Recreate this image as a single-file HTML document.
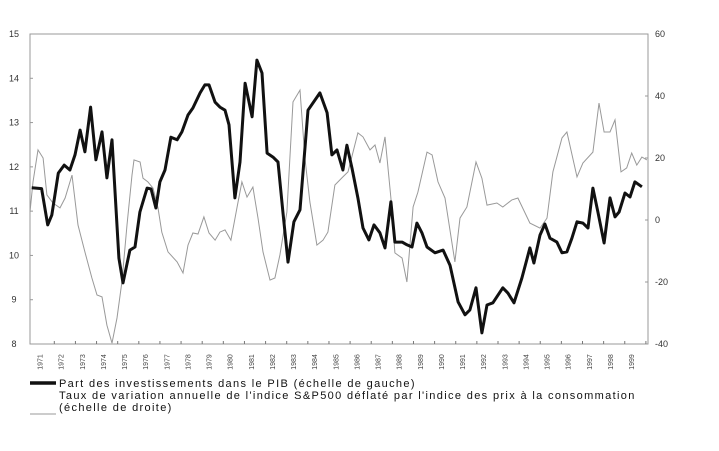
<!DOCTYPE html>
<html><head><meta charset="utf-8"><style>
body{margin:0;background:#fff;}
svg{display:block;font-family:"Liberation Sans",Arial,sans-serif;}
</style></head><body>
<svg id="chart" width="719" height="451" viewBox="0 0 719 451">
<rect x="30" y="34" width="618" height="310" fill="none" stroke="#999" stroke-width="1"/>
<g id="axes"></g>
<g id="series"></g>
<g letter-spacing="1.35">
<line x1="30" y1="383" x2="56" y2="383" stroke="#111" stroke-width="3.5"/>
<text x="59" y="387" font-size="11" fill="#111">Part des investissements dans le PIB  (échelle de gauche)</text>
<line x1="30" y1="414" x2="56" y2="414" stroke="#999" stroke-width="1"/>
<text x="59" y="399" font-size="11" fill="#111">Taux de variation annuelle de l'indice S&amp;P500 déflaté par l'indice des prix à la consommation</text>
<text x="59" y="411" font-size="11" fill="#111">(échelle de droite)</text>
</g>
</svg>
<script>
const leftTicks=[15,14,13,12,11,10,9,8];
const rightTicks=[60,40,20,0,-20,-40];
const yearLabels=[1971,1972,1973,1974,1975,1976,1977,1978,1979,1980,1981,1982,1983,1984,1985,1986,1987,1988,1989,1990,1991,1992,1993,1994,1995,1996,1997,1998,1999];
const invYears=[1970.83,1971.3,1971.59,1971.78,1972.09,1972.37,1972.64,1972.88,1973.12,1973.35,1973.62,1973.87,1974.16,1974.39,1974.63,1974.96,1975.15,1975.48,1975.72,1975.95,1976.29,1976.48,1976.71,1976.9,1977.14,1977.42,1977.71,1977.94,1978.23,1978.46,1978.8,1979.03,1979.22,1979.51,1979.74,1979.98,1980.17,1980.45,1980.69,1980.93,1981.26,1981.49,1981.73,1981.97,1982.25,1982.49,1982.72,1982.96,1983.24,1983.53,1983.91,1984.47,1984.81,1985.04,1985.28,1985.56,1985.75,1985.99,1986.27,1986.51,1986.79,1987.03,1987.31,1987.55,1987.83,1988.02,1988.36,1988.59,1988.83,1989.06,1989.3,1989.54,1989.92,1990.3,1990.63,1991.01,1991.34,1991.57,1991.86,1992.14,1992.38,1992.66,1993.13,1993.37,1993.66,1994.03,1994.22,1994.41,1994.6,1994.89,1995.12,1995.36,1995.69,1995.93,1996.16,1996.4,1996.64,1996.92,1997.16,1997.39,1997.63,1997.92,1998.2,1998.44,1998.63,1998.91,1999.15,1999.38,1999.71];
const invValues=[11.53,11.51,10.69,10.91,11.86,12.04,11.93,12.27,12.83,12.34,13.35,12.16,12.79,11.75,12.61,9.94,9.38,10.12,10.19,10.98,11.52,11.5,11.07,11.66,11.93,12.67,12.61,12.79,13.17,13.33,13.67,13.85,13.85,13.46,13.35,13.28,12.95,11.3,12.11,13.89,13.13,14.41,14.12,12.31,12.22,12.11,10.98,9.85,10.76,11.03,13.28,13.67,13.22,12.27,12.38,11.93,12.49,11.97,11.3,10.62,10.35,10.69,10.51,10.17,11.21,10.3,10.3,10.24,10.19,10.73,10.51,10.19,10.06,10.12,9.78,8.95,8.66,8.77,9.27,8.25,8.88,8.93,9.27,9.15,8.93,9.49,9.83,10.17,9.83,10.46,10.71,10.39,10.3,10.06,10.08,10.39,10.76,10.73,10.62,11.52,10.98,10.28,11.3,10.87,10.98,11.41,11.32,11.66,11.55];
const spYears=[1970.75,1970.89,1971.13,1971.37,1971.55,1971.84,1972.17,1972.41,1972.74,1973.02,1973.35,1973.68,1973.92,1974.16,1974.39,1974.63,1974.87,1975.1,1975.34,1975.58,1975.67,1975.96,1976.1,1976.33,1976.57,1976.81,1976.99,1977.28,1977.71,1977.99,1978.23,1978.46,1978.7,1978.98,1979.22,1979.51,1979.74,1979.98,1980.26,1980.55,1980.78,1981.02,1981.3,1981.54,1981.78,1982.11,1982.34,1982.58,1982.91,1983.2,1983.53,1983.76,1984.0,1984.33,1984.62,1984.85,1985.18,1985.56,1985.8,1986.27,1986.51,1986.84,1987.08,1987.31,1987.55,1987.83,1988.02,1988.36,1988.59,1988.88,1989.11,1989.54,1989.78,1990.06,1990.39,1990.86,1991.1,1991.43,1991.86,1992.14,1992.38,1992.85,1993.13,1993.56,1993.84,1994.41,1994.89,1995.22,1995.5,1995.93,1996.16,1996.64,1996.92,1997.39,1997.68,1997.92,1998.2,1998.44,1998.72,1998.99,1999.23,1999.47,1999.71,1999.95];
const spValues=[2.6,12.3,22.6,20.0,8.1,5.5,3.9,7.1,14.5,-1.6,-10.3,-18.7,-24.2,-24.8,-33.9,-39.7,-31.6,-20.0,-1.6,14.5,19.4,18.7,13.5,12.3,10.3,3.9,-3.9,-10.3,-13.5,-17.1,-8.1,-4.2,-4.5,1.0,-4.2,-6.5,-3.9,-3.2,-6.5,4.2,12.3,7.4,10.6,0.6,-10.3,-19.4,-18.7,-11.3,2.6,38.1,41.9,20.0,5.8,-8.1,-6.5,-3.9,11.3,13.9,15.5,28.1,26.8,22.6,24.2,18.4,26.8,7.1,-10.6,-12.3,-20.0,4.2,9.0,21.9,21.0,12.3,7.1,-13.5,0.6,4.2,18.7,13.5,4.8,5.5,4.2,6.5,7.1,-1.0,-2.6,0.6,15.5,26.5,28.4,13.9,18.4,21.9,37.7,28.4,28.4,32.3,15.5,16.8,21.6,17.7,20.3,19.4];

const NS='http://www.w3.org/2000/svg';
const X0=30,X1=648,Y0=34,Y1=344,T0=1970.75,T1=2000.0;
function xs(t){return X0+(t-T0)/(T1-T0)*(X1-X0);}
function yl(v){return Y0+(15-v)/(15-8)*(Y1-Y0);}
function yr(v){return Y0+(60-v)/(60+40)*(Y1-Y0);}
function mk(tag,attrs,parent){const e=document.createElementNS(NS,tag);for(const k in attrs)e.setAttribute(k,attrs[k]);parent.appendChild(e);return e;}
const axes=document.getElementById('axes');
leftTicks.forEach(v=>{
  const t=mk('text',{x:14,y:yl(v)+3,'font-size':9,fill:'#333','text-anchor':'middle'},axes);t.textContent=v;
  
  
  const l=mk('line',{x1:X0,x2:X0+3,y1:yl(v),y2:yl(v),stroke:'#999'},axes);
  
  
});
rightTicks.forEach(v=>{
  const t=mk('text',{x:655,y:yr(v)+3,'font-size':9,fill:'#333'},axes);t.textContent=v;
  
  
  const l=mk('line',{x1:X1-3,x2:X1,y1:yr(v),y2:yr(v),stroke:'#999'},axes);
  
  
});
yearLabels.forEach(y=>{
  const tx=xs(y+0.9);
  const l=mk('line',{x1:tx,x2:tx,y1:Y1-3,y2:Y1,stroke:'#777'},axes);
  
  
  const lx=xs(y+0.2)+3;
  const t=mk('text',{x:lx,y:362,'font-size':7,fill:'#444','text-anchor':'middle',transform:`rotate(-90 ${lx} 362)`},axes);t.textContent=y;
  
  
});
const ser=document.getElementById('series');
const sp=mk('polyline',{points:spYears.map((t,i)=>xs(t).toFixed(1)+','+yr(spValues[i]).toFixed(1)).join(' '),fill:'none',stroke:'#999','stroke-width':1},ser);


const inv=mk('polyline',{points:invYears.map((t,i)=>xs(t).toFixed(1)+','+yl(invValues[i]).toFixed(1)).join(' '),fill:'none',stroke:'#111','stroke-width':3,'stroke-linejoin':'round'},ser);


</script>
</body></html>
